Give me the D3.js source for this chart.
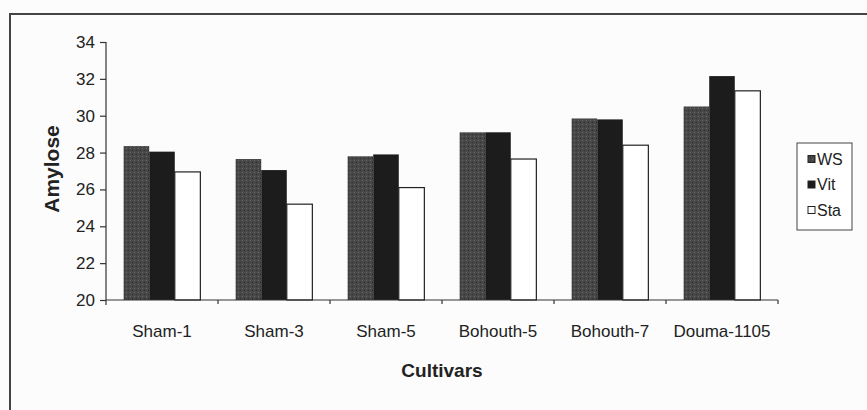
<!DOCTYPE html>
<html>
<head>
<meta charset="utf-8">
<script src="https://cdn.jsdelivr.net/npm/d3@7"></script>
<style>
  body { margin: 0; background: #fcfcfc; }
  text { font-family: "Liberation Sans", Arial, sans-serif; fill: #222; }
</style>
</head>
<body>
<div id="chart"></div>
<script>
let cultivars = ["Sham-1", "Sham-3", "Sham-5", "Bohouth-5", "Bohouth-7", "Douma-1105"];
let series = ["WS", "Vit", "Sta"];
let wsValues = [28.35, 27.65, 27.8, 29.1, 29.85, 30.5];
let vitValues = [28.05, 27.05, 27.9, 29.1, 29.8, 32.15];
let staValues = [26.95, 25.2, 26.1, 27.65, 28.4, 31.35];
let yTicks = [20, 22, 24, 26, 28, 30, 32, 34];

let width = 867, height = 410;
let plot = {left: 106, right: 778, top: 42, bottom: 300};

let svg = d3.select("#chart").append("svg")
  .attr("width", width)
  .attr("height", height);

// speckled grey fill for the WS bars
let defs = svg.append("defs");
let pat = defs.append("pattern")
  .attr("id", "speckle")
  .attr("width", 4).attr("height", 4)
  .attr("patternUnits", "userSpaceOnUse");
pat.append("rect").attr("width", 4).attr("height", 4).attr("fill", "#474747");
pat.append("rect").attr("x", 0).attr("y", 0).attr("width", 1).attr("height", 1).attr("fill", "#6a6a6a");
pat.append("rect").attr("x", 2).attr("y", 2).attr("width", 1).attr("height", 1).attr("fill", "#2e2e2e");

let fills = {WS: "url(#speckle)", Vit: "#1c1c1c", Sta: "#ffffff"};

// outer frame (only top and left visible in the scan)
svg.append("path")
  .attr("d", "M10,420 L10,14 L880,14")
  .attr("fill", "none")
  .attr("stroke", "#444")
  .attr("stroke-width", 2);

let x0 = d3.scaleBand()
  .domain(cultivars)
  .range([plot.left, plot.right]);

let x1 = d3.scaleBand()
  .domain(series)
  .range([0, x0.bandwidth()])
  .paddingOuter(0.69);

let y = d3.scaleLinear()
  .domain([20, 34])
  .range([plot.bottom, plot.top]);

let rows = cultivars.map((c, i) => ({
  name: c,
  values: [
    {key: "WS", v: wsValues[i]},
    {key: "Vit", v: vitValues[i]},
    {key: "Sta", v: staValues[i]}
  ]
}));

let groups = svg.append("g").selectAll("g")
  .data(rows)
  .enter().append("g")
  .attr("transform", d => "translate(" + x0(d.name) + ",0)");

groups.selectAll("rect")
  .data(d => d.values)
  .enter().append("rect")
  .attr("x", d => x1(d.key))
  .attr("y", d => y(d.v))
  .attr("width", x1.bandwidth())
  .attr("height", d => y(20) - y(d.v))
  .attr("fill", d => fills[d.key])
  .attr("stroke", d => d.key === "Sta" ? "#222" : "none")
  .attr("stroke-width", 1.2);

// y axis
let yAxis = svg.append("g")
  .attr("transform", "translate(" + plot.left + ",0)")
  .call(d3.axisLeft(y).tickValues(yTicks).tickSize(6).tickPadding(5));
yAxis.select(".domain").attr("stroke", "#333").attr("stroke-width", 1.2)
  .attr("d", "M0," + plot.top + "V" + (plot.bottom + 5));
yAxis.selectAll(".tick line").attr("stroke", "#333").attr("stroke-width", 1.2);
yAxis.selectAll("text").style("font-size", "17px").attr("fill", "#222");

// x axis, ticks between categories
let bounds = cultivars.map(c => x0(c) + x0.bandwidth());
let xAxis = svg.append("g")
  .attr("transform", "translate(0," + plot.bottom + ")");
xAxis.append("line")
  .attr("x1", plot.left).attr("x2", plot.right)
  .attr("stroke", "#333").attr("stroke-width", 1.2);
xAxis.selectAll(".sep")
  .data(bounds)
  .enter().append("line")
  .attr("x1", d => d).attr("x2", d => d)
  .attr("y1", 0).attr("y2", 4)
  .attr("stroke", "#333").attr("stroke-width", 1.2);
xAxis.selectAll(".lab")
  .data(cultivars)
  .enter().append("text")
  .attr("x", d => x0(d) + x0.bandwidth() / 2)
  .attr("y", 37)
  .attr("text-anchor", "middle")
  .style("font-size", "17px")
  .text(d => d);

// axis titles
svg.append("text")
  .attr("x", 442).attr("y", 377)
  .attr("text-anchor", "middle")
  .style("font-size", "19px")
  .style("font-weight", "bold")
  .text("Cultivars");

svg.append("text")
  .attr("transform", "translate(59,169) rotate(-90)")
  .attr("text-anchor", "middle")
  .style("font-size", "21px")
  .style("font-weight", "bold")
  .text("Amylose");

// legend
let legend = svg.append("g").attr("transform", "translate(797,143)");
legend.append("rect")
  .attr("width", 55).attr("height", 87)
  .attr("fill", "#fff")
  .attr("stroke", "#444").attr("stroke-width", 1);
let items = legend.selectAll(".item")
  .data(series)
  .enter().append("g")
  .attr("transform", (d, i) => "translate(11," + (16 + i * 25.5) + ")");
items.append("rect")
  .attr("x", 0).attr("y", -3.5)
  .attr("width", 7).attr("height", 7)
  .attr("fill", d => fills[d])
  .attr("stroke", "#222").attr("stroke-width", 1);
items.append("text")
  .attr("x", 9).attr("y", 0)
  .attr("dy", "0.36em")
  .style("font-size", "16px")
  .text(d => d);
</script>
</body>
</html>
